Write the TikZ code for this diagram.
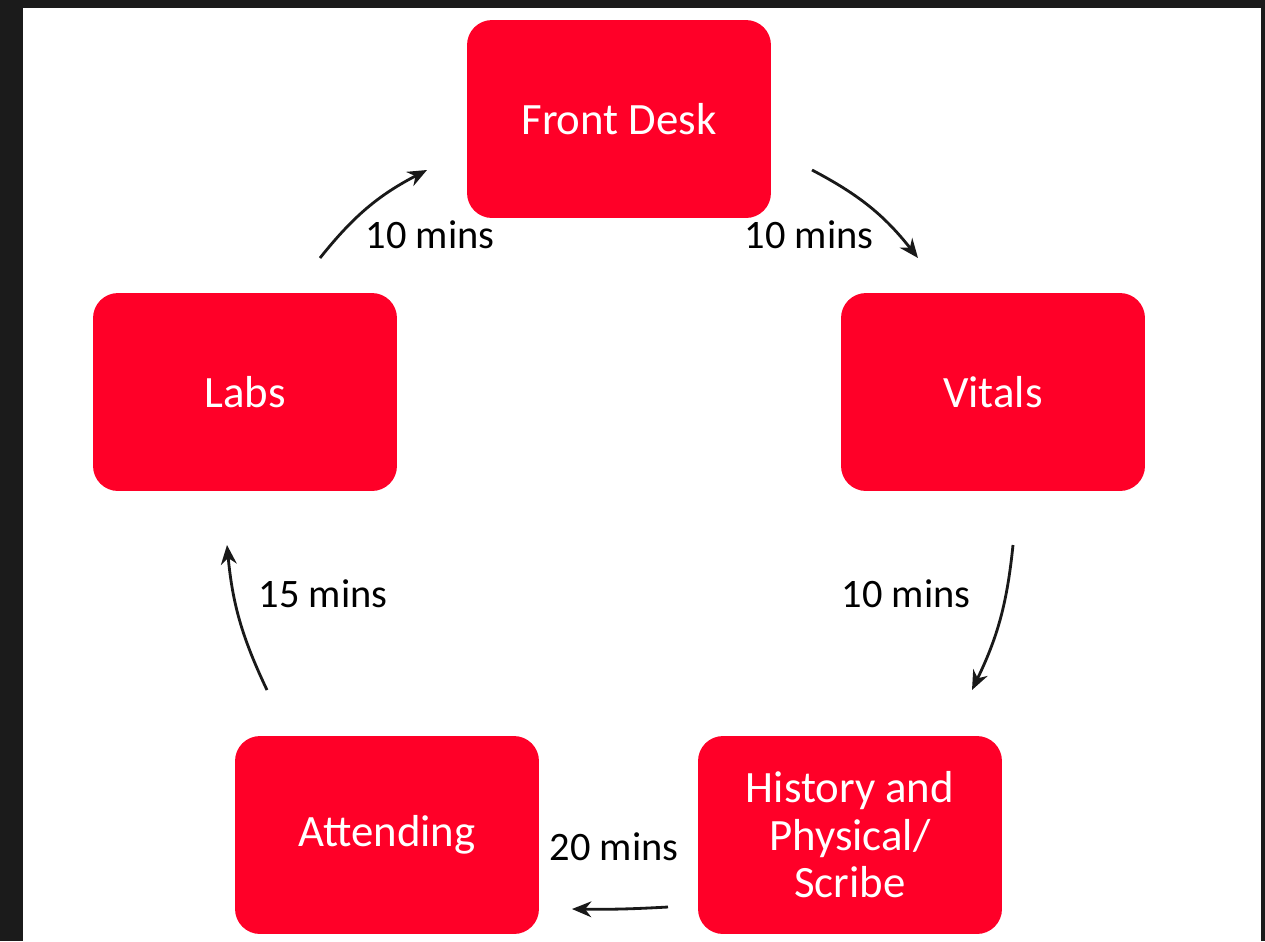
\documentclass[tikz,border=0pt]{standalone}
\usepackage{fontspec}
\setmainfont{Carlito}
\usepackage{tikz}
\usetikzlibrary{arrows,arrows.meta,shapes,positioning,calc}
\usepackage{xcolor}
\definecolor{stepred}{RGB}{255,0,40}
\definecolor{frame}{RGB}{27,27,27}

\begin{document}
\begin{tikzpicture}[x=0.02cm, y=-0.02cm,
    stepbox/.style={fill=stepred, rounded corners=0.5cm, minimum width=6.08cm,
        minimum height=3.96cm, text=white, align=center,
        font=\fontsize{25.5}{27}\selectfont},
    flow/.style={-{Stealth[length=11pt,width=9pt]}, line width=1.6pt, black!90},
    mins/.style={font=\fontsize{23}{27}\selectfont}]
    % Frame
    \fill[frame] (0,0) rectangle (1265,941);
    \fill[white] (23,8) rectangle (1261,941);

    % Steps
    \node[stepbox] (front) at (619,119) {Front Desk};
    \node[stepbox] (vitals) at (993,392) {Vitals};
    \node[stepbox] (history) at (850,835) {History and\\Physical/\\Scribe};
    \node[stepbox] (attending) at (387,835) {Attending};
    \node[stepbox] (labs) at (245,392) {Labs};

    % Arrow ends
    \coordinate (a1) at (320,258);
    \coordinate (b1) at (427,170);
    \coordinate (a2) at (812,170);
    \coordinate (b2) at (918,258);
    \coordinate (a3) at (1013,545);
    \coordinate (b3) at (972,690);
    \coordinate (a4) at (668,907);
    \coordinate (b4) at (572,909);
    \coordinate (a5) at (267,690);
    \coordinate (b5) at (227,545);

    % Times
    \draw[flow] (a1) to[bend left=12] (b1);
    \draw[flow] (a2) to[bend left=12] (b2);
    \draw[flow] (a3) to[bend left=10] (b3);
    \draw[flow] (a4) to[bend left=2] (b4);
    \draw[flow] (a5) to[bend left=10] (b5);

    \node[mins] (t1) at (430,235) {10 mins};
    \node[mins] (t2) at (809,235) {10 mins};
    \node[mins] (t3) at (906,594) {10 mins};
    \node[mins] (t4) at (614,847) {20 mins};
    \node[mins] (t5) at (323,594) {15 mins};
\end{tikzpicture}
\end{document}
